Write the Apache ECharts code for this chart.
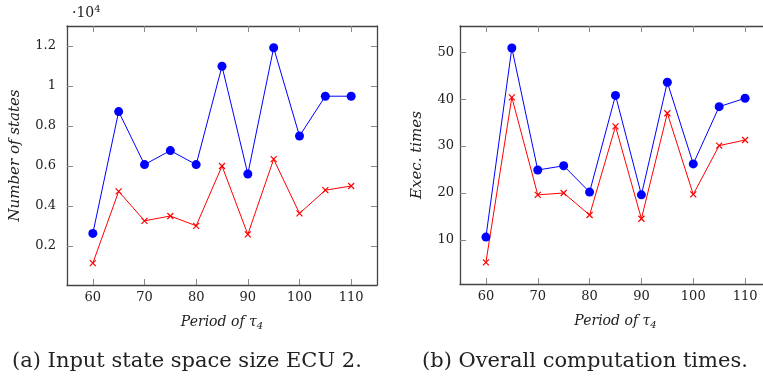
<!DOCTYPE html>
<html><head><meta charset="utf-8">
<script src="https://cdn.jsdelivr.net/npm/echarts@6/dist/echarts.min.js"></script>
<style>html,body{margin:0;padding:0;background:#fff}#c{width:763px;height:383px}</style>
</head><body><div id="c"></div>
<script>
const periods = [60, 65, 70, 75, 80, 85, 90, 95, 100, 105, 110];
const statesBlue = [2620, 8710, 6060, 6760, 6060, 10980, 5590, 11900, 7490, 9480, 9480];
const statesRed = [1130, 4720, 3250, 3490, 3000, 5990, 2570, 6330, 3620, 4780, 4990];
const timesBlue = [10.6, 50.9, 24.9, 25.8, 20.2, 40.8, 19.6, 43.6, 26.2, 38.4, 40.2];
const timesRed = [5.2, 40.4, 19.6, 20.0, 15.3, 34.2, 14.5, 37.0, 19.7, 30.1, 31.3];
const xTicks = [60, 70, 80, 90, 100, 110];
const statesTicks = [2000, 4000, 6000, 8000, 10000, 12000];
const timesTicks = [10, 20, 30, 40, 50];
const captionA = '(a) Input state space size ECU 2.';
const captionB = '(b) Overall computation times.';

const FONT = 'DejaVu Serif';
const frame = {show: true, lineStyle: {color: '#444', width: 1.3}};
const tickStyle = {show: true, inside: true, length: 6, lineStyle: {color: '#888', width: 1}};
const labelStyle = {fontFamily: FONT, fontSize: 13, color: '#222'};
const xName = {
  name: 'Period of τ{sub|4}',
  nameLocation: 'middle', nameGap: 28,
  nameTextStyle: {fontFamily: FONT, fontStyle: 'italic', fontSize: 14, color: '#222',
    rich: {sub: {fontFamily: FONT, fontSize: 10, verticalAlign: 'bottom', padding: [8, 0, 0, 0], color: '#222'}}}
};
function xAxes(gi) {
  return [
    Object.assign({type: 'value', gridIndex: gi, min: 55, max: 115, position: 'bottom',
      axisLine: frame, splitLine: {show: false},
      axisTick: Object.assign({customValues: xTicks}, tickStyle),
      axisLabel: Object.assign({customValues: xTicks, margin: 6}, labelStyle)}, xName),
    {type: 'value', gridIndex: gi, min: 55, max: 115, position: 'top',
      axisLine: frame, splitLine: {show: false},
      axisTick: Object.assign({customValues: xTicks}, tickStyle),
      axisLabel: {show: false}}
  ];
}
function yAxes(gi, min, max, ticks, fmt, name, margin, gap) {
  return [
    {type: 'value', gridIndex: gi, min: min, max: max, position: 'left',
      axisLine: frame, splitLine: {show: false},
      axisTick: Object.assign({customValues: ticks}, tickStyle),
      axisLabel: Object.assign({customValues: ticks, margin: margin, formatter: fmt}, labelStyle),
      name: name, nameLocation: 'middle', nameGap: gap,
      nameTextStyle: {fontFamily: FONT, fontStyle: 'italic', fontSize: 15, color: '#222'}},
    {type: 'value', gridIndex: gi, min: min, max: max, position: 'right',
      axisLine: frame, splitLine: {show: false},
      axisTick: Object.assign({customValues: ticks}, tickStyle),
      axisLabel: {show: false}}
  ];
}
const crossPath = 'path://M0,0L10,10M10,0L0,10';
function blue(data, xi, yi) {
  return {type: 'line', xAxisIndex: xi, yAxisIndex: yi, data: periods.map((p, i) => [p, data[i]]),
    symbol: 'circle', symbolSize: 9, lineStyle: {color: '#0000ff', width: 1},
    itemStyle: {color: '#0000ff'}, animation: false, z: 3};
}
function red(data, xi, yi) {
  return {type: 'line', xAxisIndex: xi, yAxisIndex: yi, data: periods.map((p, i) => [p, data[i]]),
    symbol: crossPath, symbolSize: 6, lineStyle: {color: '#ff0000', width: 1},
    itemStyle: {color: 'rgba(0,0,0,0)', borderColor: '#ff0000', borderWidth: 1.2}, animation: false, z: 2};
}
const chart = echarts.init(document.getElementById('c'));
chart.setOption({
  backgroundColor: '#fff',
  animation: false,
  grid: [
    {left: 67, top: 26, width: 310, height: 259, outerBoundsMode: 'none', containLabel: false},
    {left: 460, top: 26, width: 311, height: 258, outerBoundsMode: 'none', containLabel: false}
  ],
  xAxis: [...xAxes(0), ...xAxes(1)],
  yAxis: [
    ...yAxes(0, 40, 12990, statesTicks, v => String(+(v / 10000).toFixed(1)), 'Number of states', 11, 44),
    ...yAxes(1, 0.6, 55.6, timesTicks, v => String(v), 'Exec. times', 6, 35)
  ],
  series: [
    red(statesRed, 0, 0), blue(statesBlue, 0, 0),
    red(timesRed, 2, 2), blue(timesBlue, 2, 2)
  ],
  graphic: [
    {type: 'text', left: 72, top: 4, style: {text: '·10{sup|4}', fontFamily: FONT, fontSize: 14, fill: '#222',
      rich: {sup: {fontFamily: FONT, fontSize: 10, verticalAlign: 'top', padding: [0, 0, 8, 0]}}}},
    {type: 'text', left: 12, top: 351, style: {text: captionA, fontFamily: FONT, fontSize: 21, fill: '#222'}},
    {type: 'text', left: 422, top: 351, style: {text: captionB, fontFamily: FONT, fontSize: 21, fill: '#222'}}
  ]
});
</script></body></html>
